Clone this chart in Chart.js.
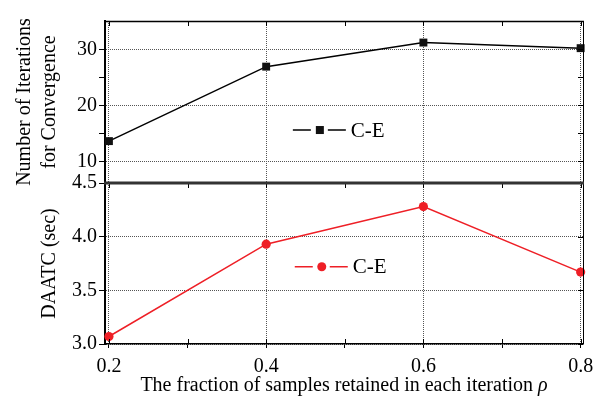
<!DOCTYPE html>
<html>
<head>
<meta charset="utf-8">
<script src="https://cdn.jsdelivr.net/npm/chart.js@4/dist/chart.umd.min.js"></script>
<style>
  html, body { margin: 0; padding: 0; background: #fff; }
  #wrap { position: relative; width: 597px; height: 397px; }
  canvas { position: absolute; left: 0; top: 0; }
</style>
</head>
<body>
<div id="wrap">
  <canvas id="top" width="597" height="397"></canvas>
  <canvas id="bottom" width="597" height="397"></canvas>
</div>
<script>
// ---- data ----
const rhoValues = [0.2, 0.4, 0.6, 0.8];
const iterations = [13.6, 26.9, 31.2, 30.2];
const daatc = [3.07, 3.93, 4.28, 3.67];
const xTickValues = [0.2, 0.3, 0.4, 0.5, 0.6, 0.7, 0.8];
const xMajor = [0.2, 0.4, 0.6, 0.8];
const topYTicks = [10, 15, 20, 25, 30];
const topYMajor = [10, 20, 30];
const bottomYTicks = [3.0, 3.25, 3.5, 3.75, 4.0, 4.25, 4.5];
const bottomYMajor = [3.0, 3.5, 4.0, 4.5];
const seriesLabel = 'C-E';
const topTitle = ['Number of Iterations', 'for Convergence'];
const bottomTitle = 'DAATC (sec)';
const xTitle = 'The fraction of samples retained in each iteration ';
const xTitleSymbol = 'ρ';

const FONT = 'Liberation Serif';
const RED = '#ee1f26';
const GRID = '#555';
const near = (a, list) => list.some(v => Math.abs(v - a) < 1e-9);

function inwardTicks(chart, opts) {
  const {ctx, chartArea: a, scales} = chart;
  ctx.save();
  ctx.strokeStyle = '#000';
  ctx.lineWidth = 1;
  ctx.beginPath();
  scales.y.ticks.forEach(t => {
    const y = Math.round(scales.y.getPixelForValue(t.value)) + 0.5;
    ctx.moveTo(a.right, y); ctx.lineTo(a.right - 5, y);
  });
  scales.x.ticks.forEach(t => {
    const x = Math.round(scales.x.getPixelForValue(t.value)) + 0.5;
    ctx.moveTo(x, a.top); ctx.lineTo(x, a.top + 5);
    if (opts.bottomTicks) { ctx.moveTo(x, a.bottom); ctx.lineTo(x, a.bottom - 5); }
  });
  ctx.stroke();
  ctx.beginPath();
  ctx.moveTo(a.right + 0.5, a.top); ctx.lineTo(a.right + 0.5, a.bottom);
  ctx.stroke();
  ctx.restore();
}

function drawLegend(chart, fx, fy, marker) {
  const {ctx, chartArea: a} = chart;
  const ds = chart.data.datasets[0];
  const x0 = a.left + fx * (a.right - a.left);
  const y0 = a.top + fy * (a.bottom - a.top);
  ctx.save();
  ctx.strokeStyle = ds.borderColor;
  ctx.lineWidth = ds.borderWidth;
  ctx.beginPath();
  ctx.moveTo(x0, y0); ctx.lineTo(x0 + 18, y0);
  ctx.moveTo(x0 + 35, y0); ctx.lineTo(x0 + 53, y0);
  ctx.stroke();
  ctx.fillStyle = ds.pointBackgroundColor;
  if (marker === 'rect') {
    ctx.fillRect(x0 + 23, y0 - 4, 8, 8);
  } else {
    ctx.beginPath(); ctx.arc(x0 + 27, y0, 4.5, 0, Math.PI * 2); ctx.fill();
  }
  ctx.fillStyle = '#000';
  ctx.font = '21px "' + FONT + '"';
  ctx.textBaseline = 'middle';
  ctx.textAlign = 'left';
  ctx.fillText(ds.label, x0 + 58, y0 + 1);
  ctx.restore();
}

function xScaleBase(showLabels) {
  return {
    type: 'linear',
    min: 0.195,
    max: 0.803,
    afterBuildTicks: s => { s.ticks = xTickValues.map(v => ({value: v})); },
    grid: {
      color: c => (c.tick && near(c.tick.value, xMajor)) ? GRID : 'rgba(0,0,0,0)',
      tickColor: '#000',
      lineWidth: 1,
      drawTicks: showLabels,
      tickLength: 4
    },
    border: { display: showLabels, color: '#000', width: 1.5, dash: [1, 1] },
    ticks: {
      display: showLabels,
      color: '#000',
      padding: 7,
      font: { family: FONT, size: 20 },
      callback: v => near(v, xMajor) ? v.toFixed(1) : ''
    }
  };
}

// ---- top chart ----
const topChart = new Chart(document.getElementById('top'), {
  type: 'scatter',
  data: {
    datasets: [{
      label: seriesLabel,
      data: rhoValues.map((x, i) => ({x, y: iterations[i]})),
      showLine: true,
      borderColor: '#000',
      borderWidth: 1.5,
      pointStyle: 'rect',
      pointRadius: 5.6,
      pointBackgroundColor: '#111',
      pointBorderColor: '#111',
      pointBorderWidth: 0,
      clip: false
    }]
  },
  options: {
    responsive: false,
    animation: false,
    devicePixelRatio: 1,
    layout: { padding: { left: 0, right: 14, top: 21, bottom: 214 } },
    plugins: { legend: { display: false }, tooltip: { enabled: false } },
    scales: {
      x: Object.assign(xScaleBase(false), { afterFit: s => { s.height = 0; s.paddingLeft = 0; s.paddingRight = 0; } }),
      y: {
        type: 'linear',
        min: 6.12,
        max: 35.05,
        afterBuildTicks: s => { s.ticks = topYTicks.map(v => ({value: v})); },
        afterFit: s => { s.width = 105; s.paddingTop = 0; s.paddingBottom = 0; },
        grid: {
          color: c => (c.tick && near(c.tick.value, topYMajor)) ? GRID : 'rgba(0,0,0,0)',
          tickColor: '#000',
          tickLength: 6
        },
        border: { color: '#000', width: 2, dash: [1, 1] },
        ticks: {
          color: '#000',
          padding: 2,
          font: { family: FONT, size: 20 },
          callback: v => near(v, topYMajor) ? String(v) : ''
        },
        title: {
          display: true,
          text: topTitle,
          color: '#000',
          font: { family: FONT, size: 20, lineHeight: 1.25 },
          padding: { top: 12.5, bottom: 0 }
        }
      }
    }
  },
  plugins: [{
    id: 'deco',
    afterDraw(chart) {
      inwardTicks(chart, { bottomTicks: false });
      const {ctx, chartArea: a} = chart;
      ctx.save();
      ctx.strokeStyle = '#000';
      ctx.lineWidth = 1.5;
      ctx.beginPath();
      ctx.moveTo(a.left, a.top + 0.5); ctx.lineTo(a.right + 1, a.top + 0.5);
      ctx.stroke();
      ctx.restore();
      drawLegend(chart, 0.393, 0.673, 'rect');
    }
  }]
});

// ---- bottom chart ----
const bottomChart = new Chart(document.getElementById('bottom'), {
  type: 'scatter',
  data: {
    datasets: [{
      label: seriesLabel,
      data: rhoValues.map((x, i) => ({x, y: daatc[i]})),
      showLine: true,
      borderColor: RED,
      borderWidth: 1.5,
      pointStyle: 'circle',
      pointRadius: 4.6,
      pointBackgroundColor: RED,
      pointBorderColor: RED,
      pointBorderWidth: 0,
      clip: false
    }]
  },
  options: {
    responsive: false,
    animation: false,
    devicePixelRatio: 1,
    layout: { padding: { left: 0, right: 14, top: 183, bottom: 0 } },
    plugins: { legend: { display: false }, tooltip: { enabled: false } },
    scales: {
      x: Object.assign(xScaleBase(true), {
        afterFit: s => { s.height = 53; s.paddingLeft = 0; s.paddingRight = 0; },
        title: {
          display: true,
          text: xTitle + xTitleSymbol,
          color: 'rgba(0,0,0,0)',
          font: { family: FONT, size: 20, lineHeight: 1.2 },
          padding: { top: 0, bottom: 0 }
        }
      }),
      y: {
        type: 'linear',
        min: 3.0,
        max: 4.5,
        afterBuildTicks: s => { s.ticks = bottomYTicks.map(v => ({value: v})); },
        afterFit: s => { s.width = 105; s.paddingTop = 0; s.paddingBottom = 0; },
        grid: {
          color: c => (c.tick && near(c.tick.value, bottomYMajor) && c.tick.value < 4.4) ? GRID : 'rgba(0,0,0,0)',
          tickColor: '#000',
          tickLength: 6
        },
        border: { color: '#000', width: 2, dash: [1, 1] },
        ticks: {
          color: '#000',
          padding: 2,
          font: { family: FONT, size: 20 },
          callback: v => near(v, bottomYMajor) ? v.toFixed(1) : ''
        },
        title: {
          display: true,
          text: bottomTitle,
          color: '#000',
          font: { family: FONT, size: 20, lineHeight: 1.25 },
          padding: { top: 37.5, bottom: 0 }
        }
      }
    }
  },
  plugins: [{
    id: 'deco2',
    afterDraw(chart) {
      inwardTicks(chart, { bottomTicks: true });
      const {ctx, chartArea: a, scales} = chart;
      ctx.save();
      ctx.strokeStyle = '#333';
      ctx.lineWidth = 3;
      ctx.beginPath();
      ctx.moveTo(a.left - 1, a.top); ctx.lineTo(a.right + 1, a.top);
      ctx.stroke();
      const x = scales.x;
      ctx.fillStyle = '#000';
      ctx.textBaseline = 'middle';
      ctx.font = '20px "' + FONT + '"';
      const w1 = ctx.measureText(xTitle).width;
      ctx.font = 'italic 20px "' + FONT + '"';
      const w2 = ctx.measureText(xTitleSymbol).width;
      const cx = (x.left + x.right) / 2;
      const ty = x.bottom - 11;
      let sx = cx - (w1 + w2) / 2;
      ctx.textAlign = 'left';
      ctx.font = '20px "' + FONT + '"';
      ctx.fillText(xTitle, sx, ty);
      ctx.font = 'italic 20px "' + FONT + '"';
      ctx.fillText(xTitleSymbol, sx + w1, ty);
      ctx.restore();
      drawLegend(chart, 0.397, 0.52, 'circle');
    }
  }]
});
</script>
</body>
</html>
